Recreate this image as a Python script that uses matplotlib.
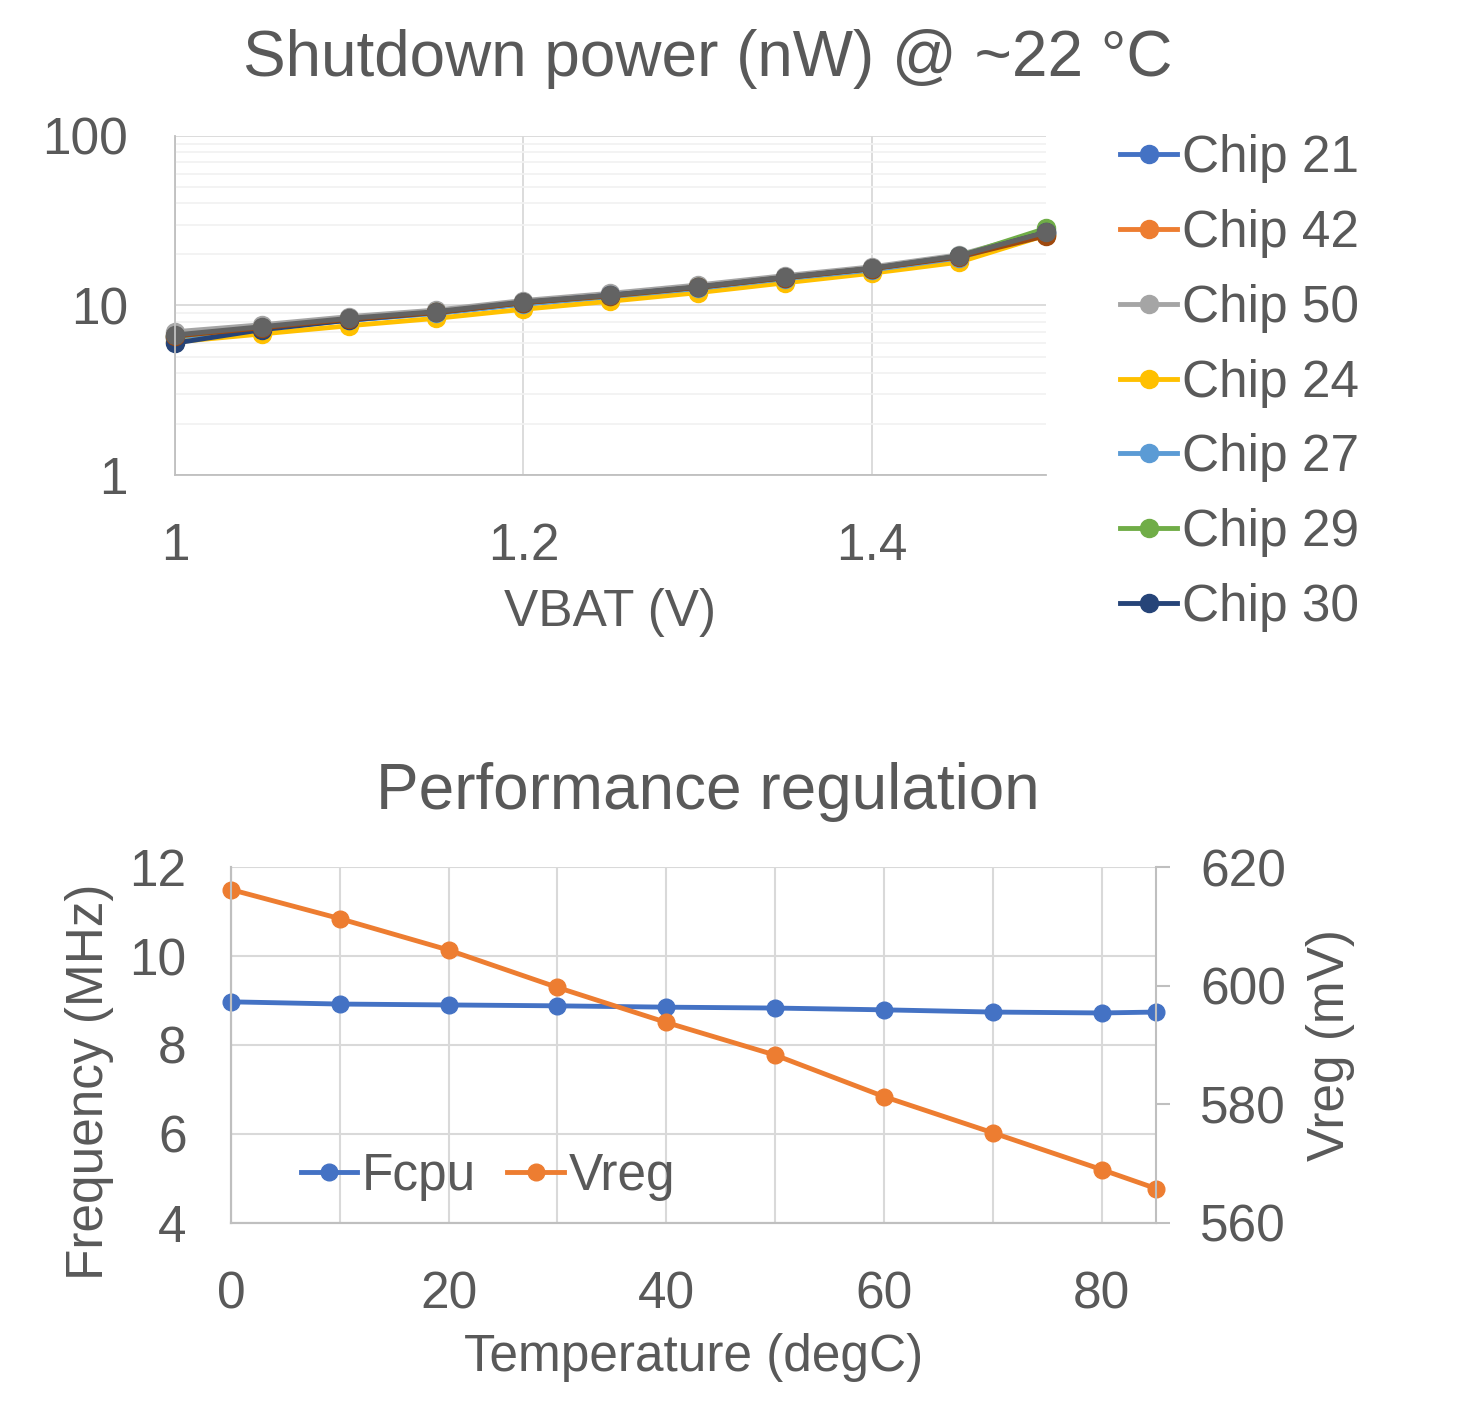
import numpy as np
import matplotlib
matplotlib.use('Agg')
import matplotlib.pyplot as plt
from matplotlib.ticker import FixedLocator, LogLocator, NullFormatter, FuncFormatter

plt.rcParams['font.family'] = ['Liberation Sans', 'DejaVu Sans']
txt = '#595959'

# --- top chart data: shutdown power (nW) vs VBAT
vbat = [1.00, 1.05, 1.10, 1.15, 1.20, 1.25, 1.30, 1.35, 1.40, 1.45, 1.50]
chip_names = ['Chip 21', 'Chip 42', 'Chip 50', 'Chip 24', 'Chip 27', 'Chip 29', 'Chip 30', 'Chip 31', 'Chip 33']
chip_colors = ['#4472C4', '#ED7D31', '#A5A5A5', '#FFC000', '#5B9BD5', '#70AD47', '#264478', '#9E480E', '#636363']
chip21 = [6.4, 7.3, 8.2, 9.0, 10.2, 11.3, 12.6, 14.4, 16.3, 19.2, 26.5]
chip42 = [6.5, 7.4, 8.3, 9.1, 10.3, 11.4, 12.7, 14.5, 16.4, 19.3, 26.0]
chip50 = [7.0, 7.7, 8.6, 9.4, 10.7, 11.8, 13.2, 15.0, 16.9, 19.9, 27.5]
chip24 = [6.1, 6.8, 7.6, 8.4, 9.5, 10.6, 11.9, 13.6, 15.5, 18.0, 26.0]
chip27 = [6.5, 7.3, 8.2, 9.0, 10.2, 11.3, 12.6, 14.4, 16.2, 19.1, 26.8]
chip29 = [6.6, 7.4, 8.3, 9.1, 10.4, 11.4, 12.8, 14.6, 16.5, 19.5, 28.5]
chip30 = [6.0, 7.2, 8.2, 9.1, 10.4, 11.5, 12.8, 14.6, 16.5, 19.5, 27.0]
chip31 = [6.6, 7.4, 8.3, 9.1, 10.4, 11.4, 12.8, 14.6, 16.5, 19.3, 25.8]
chip33 = [6.7, 7.5, 8.4, 9.2, 10.5, 11.5, 12.9, 14.7, 16.6, 19.6, 27.0]
chip_data = [chip21, chip42, chip50, chip24, chip27, chip29, chip30, chip31, chip33]

# --- bottom chart data: performance regulation
temp = [0, 10, 20, 30, 40, 50, 60, 70, 80, 85]
fcpu = [8.97, 8.92, 8.90, 8.88, 8.85, 8.83, 8.79, 8.74, 8.72, 8.74]
vreg = [616.2, 611.3, 606.0, 599.7, 593.8, 588.3, 581.3, 575.2, 569.0, 565.8]

fig = plt.figure(figsize=(14.6, 14.13), dpi=100)

# ---------------- top
ax1 = fig.add_axes([0.1199, 0.6638, 0.5965, 0.2400])
lines = []
for name, col, vals in zip(chip_names, chip_colors, chip_data):
    ln, = ax1.plot(vbat, vals, '-o', color=col, lw=3.5, ms=13, label=name, clip_on=False)
    lines.append(ln)
ax1.set_yscale('log')
ax1.set_xlim(1, 1.5)
ax1.set_ylim(1, 100)
ax1.xaxis.set_major_locator(FixedLocator([1.0, 1.2, 1.4]))
ax1.xaxis.set_major_formatter(FuncFormatter(lambda v, p: '%g' % v))
ax1.yaxis.set_major_locator(FixedLocator([1, 10, 100]))
ax1.yaxis.set_major_formatter(FuncFormatter(lambda v, p: '%g' % v))
ax1.yaxis.set_minor_locator(LogLocator(subs=np.arange(2, 10)))
ax1.yaxis.set_minor_formatter(NullFormatter())
ax1.grid(True, which='major', color='#D9D9D9', lw=1.3)
ax1.grid(True, which='minor', axis='y', color='#F2F2F2', lw=1.3)
ax1.set_axisbelow(True)
for s in ['top', 'right']:
    ax1.spines[s].set_visible(False)
for s in ['left', 'bottom']:
    ax1.spines[s].set_color('#BFBFBF')
    ax1.spines[s].set_linewidth(1.3)
ax1.tick_params(which='both', length=0, labelsize=37, labelcolor=txt)
ax1.tick_params(axis='x', pad=34)
ax1.tick_params(axis='y', pad=34)
ax1.set_xlabel('VBAT (V)', fontsize=37, color=txt, labelpad=12)
fig.text(0.485, 0.9585, 'Shutdown power (nW) @ ~22 °C', fontsize=46, color=txt,
         ha='center', va='center')
ax1.legend(handles=lines[:7], loc='upper left', bbox_to_anchor=(1.062, 1.065),
           frameon=False, fontsize=37, labelcolor=txt, handlelength=1.1,
           handletextpad=0.1, labelspacing=0.5, borderaxespad=0)

# ---------------- bottom
ax2 = fig.add_axes([0.1582, 0.1345, 0.6336, 0.2519])
ax3 = ax2.twinx()
l1, = ax2.plot(temp, fcpu, '-o', color='#4472C4', lw=3.5, ms=12, label='Fcpu', clip_on=False)
l2, = ax3.plot(temp, vreg, '-o', color='#ED7D31', lw=3.5, ms=12, label='Vreg', clip_on=False)
ax2.set_xlim(0, 85)
ax2.set_ylim(4, 12)
ax3.set_ylim(560, 620)
ax2.set_xticks([0, 20, 40, 60, 80])
ax2.set_xticks([10, 30, 50, 70], minor=True)
ax2.set_yticks([4, 6, 8, 10, 12])
ax3.set_yticks([560, 580, 600, 620])
ax2.grid(True, which='both', axis='x', color='#D9D9D9', lw=1.5)
ax2.grid(True, which='major', axis='y', color='#D9D9D9', lw=1.5)
ax2.set_axisbelow(True)
for a in (ax2, ax3):
    a.spines['top'].set_visible(False)
    for s in ['left', 'bottom', 'right']:
        a.spines[s].set_color('#BFBFBF')
        a.spines[s].set_linewidth(1.5)
ax2.spines['right'].set_visible(False)
ax2.tick_params(which='both', length=0, labelsize=37, labelcolor=txt)
ax2.tick_params(axis='x', pad=34)
ax2.tick_params(axis='y', pad=32)
ax3.tick_params(axis='y', length=10, width=1.5, color='#BFBFBF', labelsize=37,
                labelcolor=txt, pad=22)
ax2.set_xlabel('Temperature (degC)', fontsize=37, color=txt, labelpad=10)
ax2.set_ylabel('Frequency (MHz)', fontsize=37, color=txt)
ax2.yaxis.set_label_coords(-0.126, 0.396)
ax3.set_ylabel('Vreg (mV)', fontsize=37, color=txt, labelpad=14)
fig.text(0.485, 0.4395, 'Performance regulation', fontsize=46, color=txt,
         ha='center', va='center')
ax3.legend(handles=[l1, l2], loc='lower left', bbox_to_anchor=(0.053, 0.005),
           ncol=2, frameon=False, fontsize=37, labelcolor=txt, handlelength=1.1,
           handletextpad=0.1, columnspacing=0.6, borderaxespad=0)

fig.savefig('out.png', dpi=100)
